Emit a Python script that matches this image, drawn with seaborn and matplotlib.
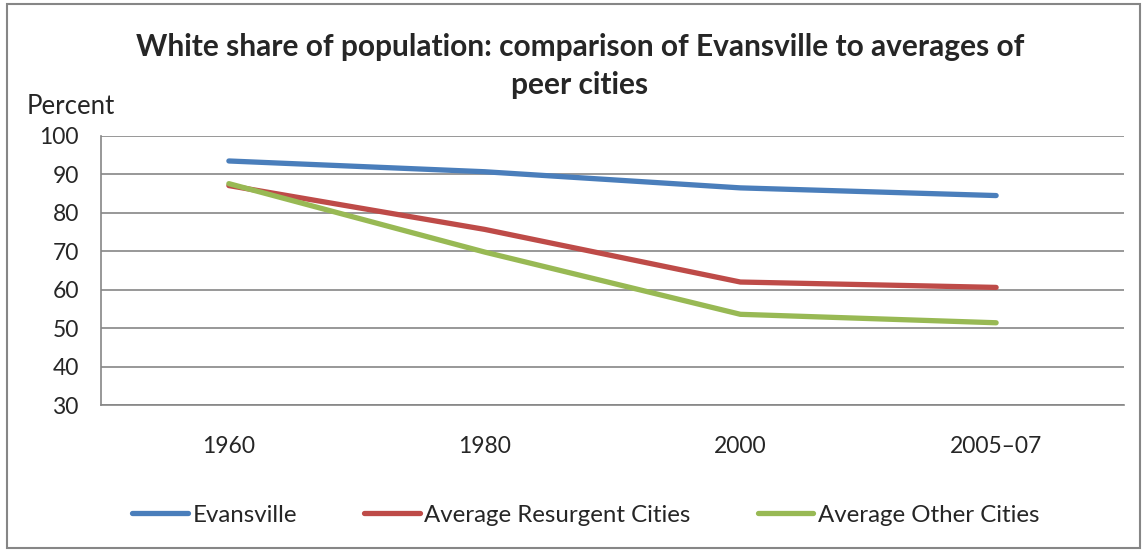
import matplotlib.pyplot as plt
import seaborn as sns
import pandas as pd
from matplotlib.patches import Rectangle

# Dados
anos = ['1960', '1980', '2000', '2005–07']
evansville = [93.5, 90.7, 86.5, 84.5]
resurgent = [87.1, 75.7, 62.0, 60.6]
outras = [87.6, 69.8, 53.6, 51.4]
series = ['Evansville', 'Average Resurgent Cities', 'Average Other Cities']
cores = ['#4A7EBB', '#BE4B48', '#98B954']

df = pd.DataFrame({
    'Ano': anos * 3,
    'Percent': evansville + resurgent + outras,
    'Serie': [s for s in series for _ in anos],
})

sns.set_style('white')
plt.rcParams['font.family'] = ['Lato', 'DejaVu Sans']

fig = plt.figure(figsize=(11.47, 5.52), dpi=100)
ax = fig.add_axes([101 / 1147, 1 - 405 / 552, (1124 - 101) / 1147, (405 - 136) / 552])

sns.lineplot(data=df, x='Ano', y='Percent', hue='Serie', palette=cores,
             linewidth=3.8, sort=False, ax=ax, legend=False,
             solid_capstyle='round')

grid = '#868686'
ax.set_ylim(30, 100)
ax.set_yticks(range(30, 101, 10))
ax.set_xlim(-0.5, len(anos) - 0.5)
ax.set_xticks(range(len(anos)))
ax.set_xticklabels(anos)
ax.set_xticks([i - 0.5 for i in range(len(anos) + 1)], minor=True)
ax.yaxis.grid(True, color=grid, linewidth=1.2)
ax.set_axisbelow(True)
for s in ['top', 'right']:
    ax.spines[s].set_visible(False)
for s in ['left', 'bottom']:
    ax.spines[s].set_color(grid)
    ax.spines[s].set_linewidth(1.2)
ax.tick_params(axis='y', which='major', length=6, color=grid, width=1.2, labelsize=16.5, pad=10)
ax.tick_params(axis='x', which='major', length=0, labelsize=16.5, pad=22)
ax.tick_params(axis='x', which='minor', length=6, color=grid, width=1.2)
ax.set_xlabel('')
ax.set_ylabel('')

fig.text(580 / 1147, 1 - 66 / 552,
         'White share of population: comparison of Evansville to averages of\npeer cities',
         ha='center', va='center', fontsize=21.5, fontweight='bold', linespacing=1.45)
fig.text(27 / 1147, 1 - 106 / 552, 'Percent', ha='left', va='center', fontsize=18.5)

handles = [plt.Line2D([], [], color=c, linewidth=3.8, solid_capstyle='round') for c in cores]
fig.legend(handles, series, loc='center', bbox_to_anchor=(586 / 1147, 1 - 515 / 552),
           ncol=3, frameon=False, fontsize=17.3, handlelength=2.3, handletextpad=0.2,
           columnspacing=2.8)

fig.patches.append(Rectangle((7 / 1147, 4 / 552), 1133 / 1147, 544 / 552,
                             transform=fig.transFigure, fill=False,
                             edgecolor='#868686', linewidth=1.5))

fig.savefig('out.png', dpi=100)
